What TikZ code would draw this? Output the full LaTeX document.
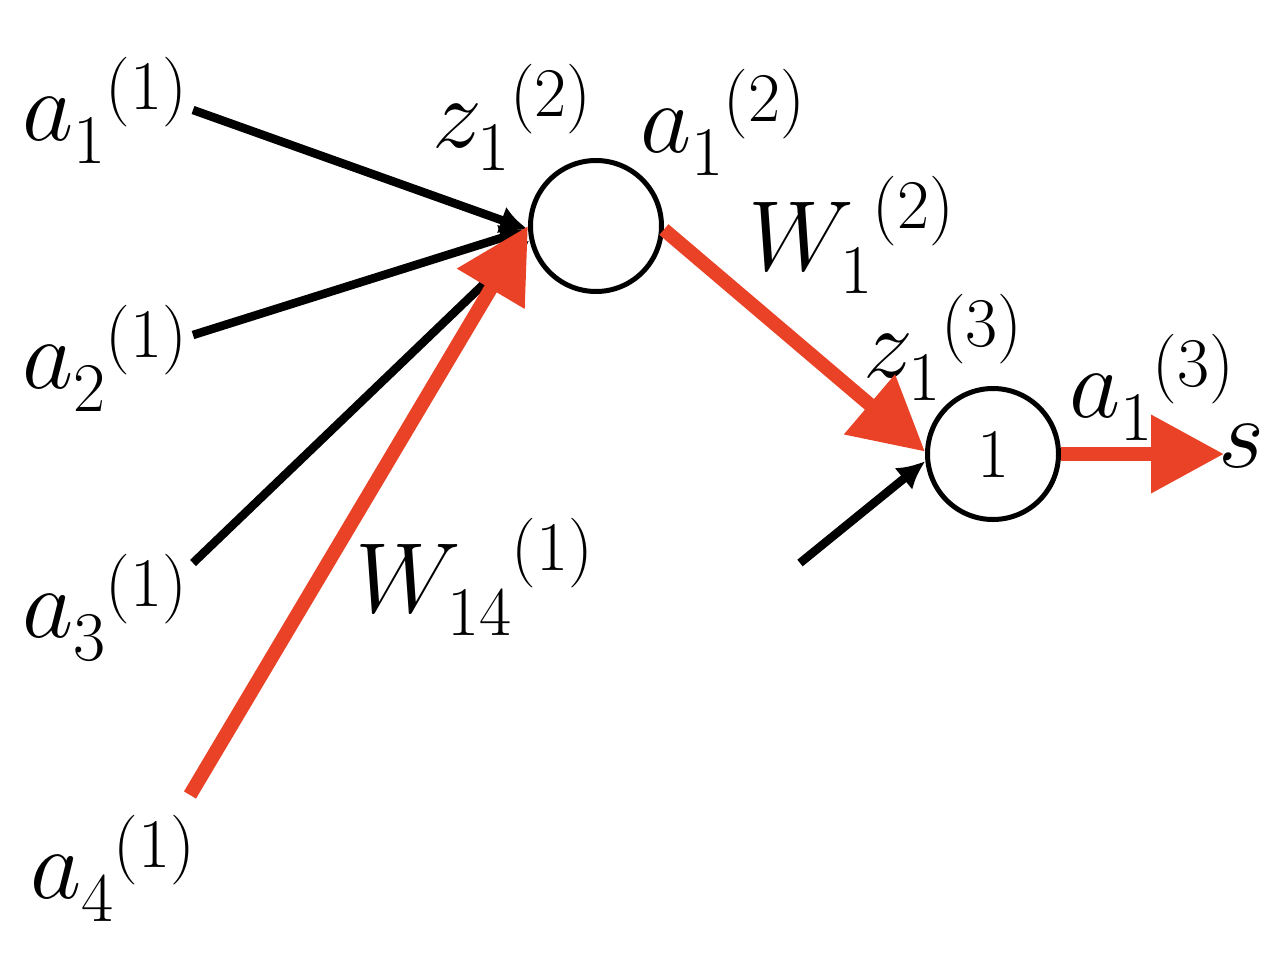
\RequirePackage{fix-cm}
\documentclass[tikz,border=0pt]{standalone}
\usetikzlibrary{arrows.meta}
\definecolor{redarrow}{RGB}{233,66,39}
\newcommand\lowsub{\fontdimen16\textfont2=23bp \fontdimen17\textfont2=23bp \fontdimen14\textfont2=31bp }
\begin{document}
\begin{tikzpicture}[x=1bp,y=-1bp,
  lbl/.style={anchor=base west,inner sep=0pt,font=\fontsize{100}{120}\selectfont},
  neuron/.style={circle,draw=black,line width=5bp,minimum size=131bp,inner sep=0pt},
  blk/.style={draw=black,line width=8.5bp,-{Latex[length=28bp,width=28bp]}},
  redl/.style={draw=redarrow,line width=14bp,-{Triangle[length=73bp,width=75bp]}}]
\useasboundingbox (0,0) rectangle (1278,964);
% neurons
\node[neuron] (c1) at (596,226) {};
\node[neuron,font=\fontsize{70}{84}\selectfont] (c2) at (993,454) {1};
% labels
\node[lbl] (la1) at (22,140) {$\lowsub{a_1}^{(1)}$};
\node[lbl] (la2) at (22,388) {$\lowsub{a_2}^{(1)}$};
\node[lbl] (la3) at (22,637) {$\lowsub{a_3}^{(1)}$};
\node[lbl] (la4) at (30,898) {$\lowsub{a_4}^{(1)}$};
\node[lbl] (lz2) at (432,147) {$\lowsub{z_1}^{(2)}$};
\node[lbl] (lo2) at (640,152) {$\lowsub{a_1}^{(2)}$};
\node[lbl] (lw2) at (748,270) {$\lowsub{W_1}^{(2)}$};
\node[lbl] (lz3) at (863,377) {$\lowsub{z_1}^{(3)}$};
\node[lbl] (lo3) at (1069,417) {$\lowsub{a_1}^{(3)}$};
\node[lbl] (ls) at (1218,467) {$s$};
\node[lbl] (lw1) at (355,612) {$\lowsub{W_{14}}^{(1)}$};
% free ends
\coordinate (i1) at (193,110);
\coordinate (i2) at (193,335);
\coordinate (i3) at (193,563);
\coordinate (i4) at (190,795);
\coordinate (b) at (800,563);
% connectors
\draw[blk] (i1) -- (c1.183);
\draw[blk] (i2) -- (c1.183);
\draw[blk] (i3) -- (c1.192);
\draw[blk] (b) -- (c2.186);
\draw[redl] (i4) -- (c1.180);
\draw[redl] (c1.-3) -- (c2.178);
\draw[redl] (c2.east) -- ([xshift=6bp]c2.east -| ls.west);
\end{tikzpicture}
\end{document}
